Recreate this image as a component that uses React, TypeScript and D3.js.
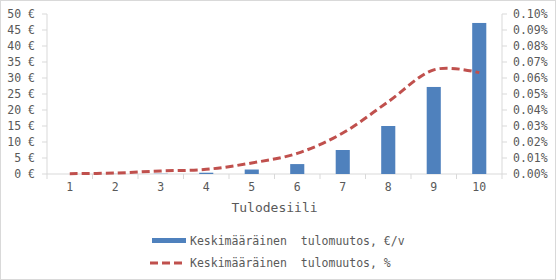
import React from "react";
import * as d3 from "d3";

const categories = ["1", "2", "3", "4", "5", "6", "7", "8", "9", "10"];
const euroValues = [0.0, 0.03, 0.08, 0.4, 1.4, 3.1, 7.5, 15.0, 27.2, 47.2];
const pctValues = [0.0002, 0.0006, 0.0019, 0.0029, 0.0069, 0.0129, 0.0256, 0.0452, 0.0651, 0.0633];
const leftTicks = [0, 5, 10, 15, 20, 25, 30, 35, 40, 45, 50];
const rightTicks = [0, 0.01, 0.02, 0.03, 0.04, 0.05, 0.06, 0.07, 0.08, 0.09, 0.1];
const xTitle = "Tulodesiili";
const legendLabels = ["Keskimääräinen  tulomuutos, €/v", "Keskimääräinen  tulomuutos, %"];

const W = 556;
const H = 280;
const left = 47;
const right = 502;
const top = 14;
const bottom = 174;
const FONT = "'DejaVu Sans Mono', monospace";
const TXT = "#595959";
const AX = "#d9d9d9";
const BLUE = "#4F81BD";
const RED = "#C0504D";

export default function App() {
  const x = d3.scaleBand().domain(categories).range([left, right]).paddingInner(0).paddingOuter(0);
  const yL = d3.scaleLinear().domain([0, 50]).range([bottom, top]);
  const yR = d3.scaleLinear().domain([0, 0.1]).range([bottom, top]);
  const bw = x.bandwidth() * 0.31;
  const cx = (c: string) => (x(c) as number) + x.bandwidth() / 2;

  const line = d3
    .line<number>()
    .x((_, i) => cx(categories[i]))
    .y((d) => yR(d))
    .curve(d3.curveCatmullRom.alpha(0));

  const boundaries = categories.map((c) => x(c) as number).concat([right]);

  return (
    <svg width={W} height={H} style={{ position: "absolute", left: 0, top: 0 }} fontFamily={FONT}>
      <rect x={0.5} y={0.5} width={W - 1} height={H - 1} fill="#fff" stroke={AX} />
      {/* left axis */}
      <line x1={left} x2={left} y1={top} y2={bottom} stroke={AX} />
      {leftTicks.map((t) => (
        <g key={"l" + t}>
          <line x1={left - 5} x2={left} y1={yL(t)} y2={yL(t)} stroke={AX} />
          <text x={35} y={yL(t)} dy="0.35em" textAnchor="end" fontSize={11.5} fill={TXT}>
            {t + " €"}
          </text>
        </g>
      ))}
      {/* right axis */}
      <line x1={right} x2={right} y1={top} y2={bottom} stroke={AX} />
      {rightTicks.map((t) => (
        <g key={"r" + t}>
          <line x1={right} x2={right + 5} y1={yR(t)} y2={yR(t)} stroke={AX} />
          <text x={513} y={yR(t)} dy="0.35em" textAnchor="start" fontSize={11.5} fill={TXT}>
            {t.toFixed(2) + "%"}
          </text>
        </g>
      ))}
      {/* bottom axis */}
      <line x1={left} x2={right} y1={bottom} y2={bottom} stroke={AX} />
      {boundaries.map((b, i) => (
        <line key={"b" + i} x1={b} x2={b} y1={bottom} y2={bottom + 5} stroke={AX} />
      ))}
      {categories.map((c) => (
        <text key={"c" + c} x={cx(c)} y={191} textAnchor="middle" fontSize={11.5} fill={TXT}>
          {c}
        </text>
      ))}
      {/* bars */}
      {euroValues.map((v, i) => (
        <rect
          key={"bar" + i}
          x={cx(categories[i]) - bw / 2}
          y={yL(v)}
          width={bw}
          height={bottom - yL(v)}
          fill={BLUE}
        />
      ))}
      {/* line */}
      <path
        d={line(pctValues) as string}
        fill="none"
        stroke={RED}
        strokeWidth={3}
        strokeDasharray="8,4"
      />
      {/* axis title */}
      <text x={(left + right) / 2} y={212} textAnchor="middle" fontSize={13} fill={TXT}>
        {xTitle}
      </text>
      {/* legend */}
      <rect x={152} y={238} width={34} height={5} fill={BLUE} />
      <text x={190} y={244.5} fontSize={11.5} fill={TXT} style={{ whiteSpace: "pre" }}>
        {legendLabels[0]}
      </text>
      <line x1={150} x2={186} y1={263} y2={263} stroke={RED} strokeWidth={3} strokeDasharray="8,4" />
      <text x={190} y={266.5} fontSize={11.5} fill={TXT} style={{ whiteSpace: "pre" }}>
        {legendLabels[1]}
      </text>
    </svg>
  );
}
